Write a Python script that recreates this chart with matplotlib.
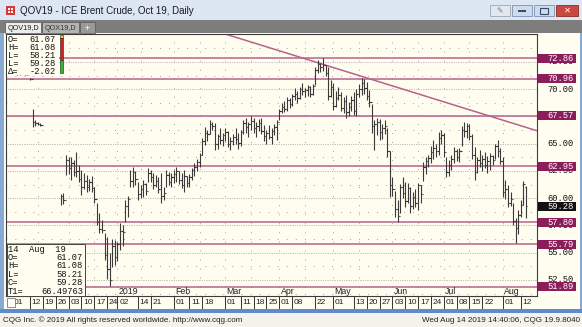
import numpy as np
import pandas as pd
import matplotlib
matplotlib.use("Agg")
import matplotlib.pyplot as plt
import matplotlib.transforms as mtrans
from matplotlib.patches import Rectangle

plt.rcParams['font.family'] = ['Liberation Sans Narrow', 'Liberation Sans', 'DejaVu Sans']
MONO = ['Liberation Mono', 'DejaVu Sans Mono']

# ---- data: daily (high, low, close), None = no trade shown
holidays = ['2018-12-25', '2018-12-26', '2019-01-01', '2019-04-19']
nov = [(72.6, 71.5, 72.0), (72.4, 71.4, 71.6), (72.0, 71.3, 71.5), (71.9, 71.3, 71.6),
       (71.9, 71.4, 71.5), (71.7, 71.3, 71.4), (71.6, 71.3, 71.4), (71.0, 70.8, 70.9),
       (68.2, 66.5, 67.0), (67.2, 66.6, 66.9), (67.0, 66.7, 66.8), (66.9, 66.6, 66.7),
       None, None, None, None, None, None, None,
       (60.4, 59.4, 60.2), (60.5, 59.5, 59.8), (64.0, 62.1, 63.5)]
dec = [(63.8, 62.2, 62.8), (63.8, 61.7, 63.2), (63.5, 62.0, 62.4), (64.2, 61.9, 62.5),
       (63.0, 61.5, 61.8), (62.6, 60.3, 61.0), (62.3, 60.8, 61.6), (62.1, 60.6, 61.0),
       (61.8, 60.7, 61.5), (62.0, 60.6, 60.9), (61.0, 59.6, 59.9), (59.6, 57.5, 57.8),
       (58.6, 56.8, 57.2), (58.0, 56.8, 57.1), (56.8, 54.3, 54.8), (56.4, 52.6, 53.5),
       (55.0, 51.9, 52.5), (56.3, 53.7, 55.6), (56.2, 53.9, 54.6)]
jan = [(56.0, 54.2, 55.8), (57.7, 55.2, 57.0), (57.5, 55.6, 56.9), (59.8, 57.8, 59.3),
       (60.2, 58.3, 59.9), (62.6, 61.0, 61.6), (62.9, 61.0, 62.4), (62.5, 61.2, 61.8),
       (61.5, 59.8, 60.4), (61.2, 60.0, 60.8), (61.7, 60.1, 61.3), (61.4, 60.3, 60.7),
       (62.8, 61.5, 62.3), (62.6, 61.5, 61.9), (62.3, 60.8, 61.2), (62.1, 61.0, 61.6),
       (61.9, 60.5, 60.8), (62.3, 59.6, 60.2), (61.0, 59.8, 60.5), (62.6, 61.0, 62.1),
       (62.4, 61.2, 61.5), (62.3, 61.0, 61.9)]
feb = [(62.6, 61.4, 62.2), (62.9, 61.5, 62.5), (62.5, 61.3, 61.7), (62.3, 60.9, 61.2),
       (62.6, 60.6, 62.0), (62.0, 61.0, 61.4), (62.2, 61.0, 61.9), (62.8, 61.7, 62.6),
       (63.2, 62.0, 62.9), (63.6, 62.5, 63.3), (64.1, 62.9, 64.0), (65.5, 64.0, 65.2),
       (66.5, 64.9, 66.0), (66.3, 65.2, 65.9), (67.2, 65.9, 66.8), (67.0, 66.3, 66.6),
       (66.9, 64.4, 65.0), (65.9, 64.5, 65.7), (66.4, 65.0, 65.3), (66.0, 64.8, 65.8)]
mar = [(66.4, 65.2, 66.1), (66.2, 64.7, 65.0), (65.6, 64.4, 65.2), (65.9, 64.9, 65.6),
       (66.4, 65.0, 65.4), (66.0, 64.5, 65.1), (66.3, 64.8, 66.1), (67.2, 65.9, 66.9),
       (67.4, 66.0, 66.5), (67.0, 65.6, 66.8), (67.5, 66.3, 67.1), (67.4, 66.0, 66.4),
       (67.0, 65.6, 66.6), (67.3, 66.2, 66.9), (67.4, 65.9, 66.2), (66.7, 65.2, 65.7),
       (66.3, 65.0, 66.0), (66.7, 65.4, 65.6), (66.4, 65.0, 66.2), (66.8, 65.8, 66.5),
       (67.2, 65.3, 67.0)]
apr = [(68.2, 67.2, 68.0), (68.7, 67.8, 68.4), (68.9, 67.9, 68.2), (69.3, 68.0, 69.0),
       (69.2, 68.3, 68.6), (69.6, 68.5, 69.4), (70.1, 69.0, 69.6), (69.8, 68.7, 69.2),
       (70.2, 69.1, 70.0), (70.6, 69.5, 69.8), (70.1, 69.3, 69.9), (70.4, 69.4, 70.2),
       (70.3, 69.3, 69.6), (70.5, 69.5, 70.3), (72.0, 70.4, 71.8), (72.7, 71.5, 72.3),
       (72.4, 71.6, 72.0), (72.9, 71.7, 72.2), (72.2, 71.2, 71.5), (72.0, 69.0, 69.4),
       (70.8, 69.3, 70.2)]
may = [(70.6, 68.1, 68.5), (69.8, 68.4, 69.2), (70.2, 69.0, 69.5), (69.7, 68.0, 68.3),
       (69.3, 67.8, 68.9), (69.5, 67.4, 67.9), (68.8, 67.5, 68.4), (69.4, 68.0, 69.0),
       (69.7, 67.6, 68.0), (70.0, 67.5, 69.6), (70.5, 69.3, 70.0), (71.0, 69.5, 70.6),
       (70.9, 69.6, 70.1), (70.7, 69.0, 69.4), (69.9, 68.4, 68.8), (68.6, 66.0, 66.6),
       (67.2, 64.4, 66.8), (67.4, 65.8, 67.0), (67.3, 65.3, 66.1), (66.8, 65.4, 66.4),
       (67.2, 65.9, 66.6), (66.4, 63.8, 64.3), (64.3, 60.1, 61.2)]
jun = [(61.9, 60.2, 60.8), (60.7, 58.3, 59.0), (59.8, 57.8, 58.4), (61.3, 58.6, 61.0),
       (61.9, 60.0, 60.5), (61.5, 59.2, 59.7), (61.4, 59.6, 60.9), (61.0, 58.6, 59.3),
       (60.6, 59.0, 60.1), (60.8, 59.2, 59.6), (61.4, 58.9, 61.2), (61.2, 59.6, 60.4),
       (63.3, 61.6, 62.9), (63.8, 62.2, 63.4), (64.0, 62.9, 63.7), (64.8, 63.2, 64.2),
       (65.3, 63.6, 64.6), (65.0, 63.8, 64.3), (66.1, 64.0, 65.5), (66.3, 65.0, 65.8)]
jul = [(66.0, 63.8, 64.2), (63.8, 61.9, 62.4), (63.5, 62.0, 63.0), (64.0, 62.6, 63.6),
       (64.7, 63.2, 64.3), (64.5, 63.4, 63.8), (64.6, 63.3, 64.3), (66.6, 64.8, 66.3),
       (67.0, 65.6, 66.2), (66.9, 65.5, 66.6), (66.8, 65.3, 65.7), (65.9, 63.6, 64.0),
       (64.7, 61.7, 62.4), (63.8, 62.3, 63.5), (64.4, 62.9, 63.2), (64.0, 62.5, 63.6),
       (64.2, 62.8, 63.0), (63.9, 62.3, 63.4), (64.1, 62.6, 63.9), (64.0, 63.0, 63.5),
       (65.0, 63.6, 64.8), (65.3, 63.8, 64.3), (64.6, 63.1, 63.4)]
aug = [(63.8, 60.1, 60.6), (61.7, 59.9, 60.8), (61.2, 59.2, 59.6), (60.6, 59.3, 59.9),
       (59.6, 57.5, 57.9), (58.2, 55.9, 57.3), (58.9, 56.7, 58.5), (59.8, 58.3, 59.4),
       (61.6, 59.4, 61.30), (61.08, 58.21, 59.28)]
last_open = 61.07

levels = [72.86, 70.96, 67.57, 62.95, 57.80, 55.79, 51.89]
last_price = 59.28
price_ticks = [52.5, 55.0, 57.5, 60.0, 62.5, 65.0, 67.5, 70.0, 72.5]
trend_pts = [('2019-03-01', 75.06), ('2019-08-14', 66.49763)]

day_ticks = ['2018-11-01', '2018-11-12', '2018-11-19', '2018-11-26', '2018-12-03', '2018-12-10',
             '2018-12-17', '2018-12-24', '2019-01-02', '2019-01-14', '2019-01-21', '2019-02-01',
             '2019-02-11', '2019-02-18', '2019-03-01', '2019-03-11', '2019-03-18', '2019-03-25',
             '2019-04-01', '2019-04-08', '2019-04-22', '2019-05-01', '2019-05-13', '2019-05-20',
             '2019-05-27', '2019-06-03', '2019-06-10', '2019-06-17', '2019-06-24', '2019-07-01',
             '2019-07-08', '2019-07-15', '2019-07-22', '2019-08-01', '2019-08-12']
month_ticks = ['2019-01-02', '2019-02-01', '2019-03-01', '2019-04-01', '2019-05-01',
               '2019-06-03', '2019-07-01', '2019-08-01']
month_names = ['2019', 'Feb', 'Mar', 'Apr', 'May', 'Jun', 'Jul', 'Aug']
vgrid_days = ['2018-11-15', '2018-12-03', '2018-12-17', '2019-01-02', '2019-01-15',
              '2019-02-01', '2019-02-15', '2019-03-01', '2019-03-15', '2019-04-01',
              '2019-04-15', '2019-05-01', '2019-05-15', '2019-06-03', '2019-06-17',
              '2019-07-01', '2019-07-15', '2019-08-01']

top_labels = ['O=', 'H=', 'L=', 'L=', 'Δ=']
top_values = ['61.07', '61.08', '58.21', '59.28', '-2.02']
bot_labels = ['O=', 'H=', 'L=', 'C=', 'T1=']
bot_values = ['61.07', '61.08', '58.21', '59.28', '66.49763']

# ---- build series
dates = pd.bdate_range('2018-11-01', '2019-08-14').drop(pd.to_datetime(holidays))
bars = nov + dec + jan + feb + mar + apr + may + jun + jul + aug
hlc = np.array([b if b is not None else (np.nan, np.nan, np.nan) for b in bars], float)
highs, lows, closes = hlc.T
opens = np.r_[np.nan, closes[:-1]]
opens[-1] = last_open
xi = np.arange(len(dates))


def idx(s):
    return dates.get_loc(pd.Timestamp(s))


# ---- figure / window chrome (pixel coordinates)
W, H = 582, 327
CREAM = '#fffdf0'
LEVEL = '#b9618d'
LABEL_BG = '#8b1d5b'
fig = plt.figure(figsize=(W / 100, H / 100), dpi=100)
fig.patch.set_facecolor('#86a9d6')

bg = fig.add_axes([0, 0, 1, 1], zorder=0)
bg.set_xlim(0, W)
bg.set_ylim(H, 0)
bg.axis('off')


def rect(a, x, y, w, h, fc, ec='none', lw=0.0, z=1):
    a.add_patch(Rectangle((x, y), w, h, facecolor=fc, edgecolor=ec, lw=lw, zorder=z))


rect(bg, 0, 0, W, 20, '#dde7f4')
rect(bg, 0, 20, W, 13, '#7d7d7d')
rect(bg, 4, 33, 576, 276, CREAM)
rect(bg, 0, 313, W, 14, '#f4f2ea')
# icon
rect(bg, 6, 6, 9, 9, '#d23a3a', z=2)
for dx, dy in [(7.5, 7.5), (11, 7.5), (7.5, 11), (11, 11)]:
    rect(bg, dx, dy, 2, 2, 'white', z=3)
bg.text(20, 11, 'QOV19 - ICE Brent Crude, Oct 19, Daily', fontsize=7, va='center', color='#1a1a1a')
# window buttons
rect(bg, 490, 5, 20, 11, '#e4e8ee', '#9aa6b5', 0.6)
bg.text(500, 10.5, '✎', fontsize=5.5, ha='center', va='center', color='#777777', family='DejaVu Sans')
rect(bg, 512, 5, 20, 11, '#cddbee', '#7f93b0', 0.6)
rect(bg, 518, 10, 8, 2, '#3b4b66', z=2)
rect(bg, 534, 5, 20, 11, '#cddbee', '#7f93b0', 0.6)
rect(bg, 540, 7.5, 8, 6, 'none', '#3b4b66', 0.8, z=2)
rect(bg, 556, 5, 22, 11, '#c9483f', '#8a2a24', 0.6)
bg.text(567, 10.5, '✕', fontsize=6, ha='center', va='center', color='white',
        family='DejaVu Sans', weight='bold')
# tabs
rect(bg, 5, 22, 36, 11, '#ececec', '#555555', 0.5)
rect(bg, 42, 22, 37, 11, '#b3b3b3', '#555555', 0.5)
rect(bg, 80, 22, 15, 11, '#9a9a9a', '#555555', 0.5)
bg.text(23, 28, 'QOV19,D', fontsize=5.2, ha='center', va='center', color='#222222')
bg.text(60.5, 28, 'QOX19,D', fontsize=5.2, ha='center', va='center', color='#333333')
bg.text(87.5, 28, '+', fontsize=6.5, ha='center', va='center', color='white')
# status bar
bg.text(3, 320, 'CQG Inc. © 2019 All rights reserved worldwide. http://www.cqg.com',
        fontsize=5.8, va='center', color='#222222')
bg.text(580, 320, 'Wed Aug 14 2019 14:40:06, CQG 19.9.8040',
        fontsize=5.8, va='center', ha='right', color='#222222')

# ---- price chart
AX_L, AX_R, AX_T, AX_B = 6, 537, 34, 296
ax = fig.add_axes([AX_L / W, 1 - AX_B / H, (AX_R - AX_L) / W, (AX_B - AX_T) / H], zorder=1)
ax.set_facecolor(CREAM)
PX_PER_DAY, X0 = 2.57, 12
PX_PER_USD, Y_REF = 10.9, 58
ax.set_xlim((AX_L - X0) / PX_PER_DAY, (AX_R - X0) / PX_PER_DAY)
ax.set_ylim(levels[0] - (AX_B - Y_REF) / PX_PER_USD, levels[0] + (Y_REF - AX_T) / PX_PER_USD)
ax.set_xticks([])
ax.set_yticks([])
for s in ax.spines.values():
    s.set_color('#3c3c3c')
    s.set_linewidth(0.8)

# grid: dense rows at ticks, sparse rows in between, sparse columns
dense = (0, (0.6, 1.5))
sparse = (0, (0.7, 8.6))
for p in price_ticks:
    ax.axhline(p, color='#7a7a7a', lw=0.6, ls=dense, zorder=1)
for p in np.array(price_ticks[:-1]) + 1.25:
    ax.axhline(p, color='#7a7a7a', lw=0.7, ls=sparse, zorder=1)
for p in [51.25, 73.75]:
    ax.axhline(p, color='#7a7a7a', lw=0.7, ls=sparse, zorder=1)
for d in vgrid_days:
    ax.axvline(idx(d), color='#7a7a7a', lw=0.7, ls=sparse, zorder=1)

for p in levels:
    ax.axhline(p, color=LEVEL, lw=1.1, zorder=2)
ax.axline((idx(trend_pts[0][0]), trend_pts[0][1]), (idx(trend_pts[1][0]), trend_pts[1][1]),
          color=LEVEL, lw=1.1, zorder=2)

BAR = '#3a3a3a'
ax.vlines(xi, lows, highs, color=BAR, lw=0.8, zorder=3)
ax.hlines(closes, xi, xi + 0.55, color=BAR, lw=0.8, zorder=3)
ax.hlines(opens, xi - 0.55, xi, color=BAR, lw=0.8, zorder=3)

# right price scale
ty = mtrans.blended_transform_factory(ax.transAxes, ax.transData)
W_AX = AX_R - AX_L


def ax_x(px):
    return (px - AX_L) / W_AX


for p in price_ticks:
    ax.text(ax_x(574), p, f'{p:.2f}', transform=ty, ha='right', va='center',
            fontsize=6.3, family=MONO, color='#111111', clip_on=False, zorder=4)
box_h = 9 / PX_PER_USD
for p, fc in [(v, LABEL_BG) for v in levels] + [(last_price, '#111111')]:
    ax.add_patch(Rectangle((ax_x(538), p - box_h / 2), 38 / W_AX, box_h, transform=ty,
                           facecolor=fc, edgecolor='none', clip_on=False, zorder=5))
    ax.text(ax_x(574), p, f'{p:.2f}', transform=ty, ha='right', va='center',
            fontsize=6.3, family=MONO, color='white', clip_on=False, zorder=6)

# month row (inside frame) and day row (below frame)
tx = mtrans.blended_transform_factory(ax.transData, ax.transAxes)
for d, name in zip(month_ticks, month_names):
    ax.text(idx(d) + 0.5, 0.016, name, transform=tx, ha='left', va='center',
            fontsize=6.3, color='#222222', zorder=4)
for i, d in enumerate(day_ticks):
    if i > 0:
        ax.plot([idx(d), idx(d)], [-0.004, -0.044], transform=tx, color='#333333',
                lw=0.7, clip_on=False)
    ax.text(idx(d) + 0.7, -0.024, d[-2:], transform=tx, ha='left', va='center',
            fontsize=6.0, color='#222222', clip_on=False)

# ---- overlays (info boxes)
fg = fig.add_axes([0, 0, 1, 1], zorder=3)
fg.set_xlim(0, W)
fg.set_ylim(H, 0)
fg.axis('off')
rect(fg, 7, 35, 52, 40, CREAM)
for k, (lab, val) in enumerate(zip(top_labels, top_values)):
    y = 39.5 + 8 * k
    fg.text(8, y, lab, fontsize=6.3, family=MONO, va='center', color='#111111')
    fg.text(56, y, val, fontsize=6.3, family=MONO, va='center', ha='right', color='#111111')
rect(fg, 59.5, 35, 3, 2.5, '#e8d030', '#222222', 0.4)
rect(fg, 59.5, 37.5, 3, 22, '#d41f1f', '#222222', 0.4)
rect(fg, 59.5, 59.5, 3, 13.5, '#2fb52f', '#222222', 0.4)

rect(fg, 6.5, 244, 78.5, 52, CREAM, '#444444', 0.7)
fg.text(8, 249, '14  Aug  19', fontsize=6.3, family=MONO, va='center', color='#111111')
for k, (lab, val) in enumerate(zip(bot_labels, bot_values)):
    y = 257.5 + 8.4 * k
    fg.text(8, y, lab, fontsize=6.3, family=MONO, va='center', color='#111111')
    fg.text(83, y, val, fontsize=6.3, family=MONO, va='center', ha='right', color='#111111')
rect(fg, 7, 298, 8, 9, 'white', '#777777', 0.6)
rect(fg, 0, 309, W, 4, '#5f8cc8')

fig.savefig('out.png', dpi=100, facecolor=fig.get_facecolor())
